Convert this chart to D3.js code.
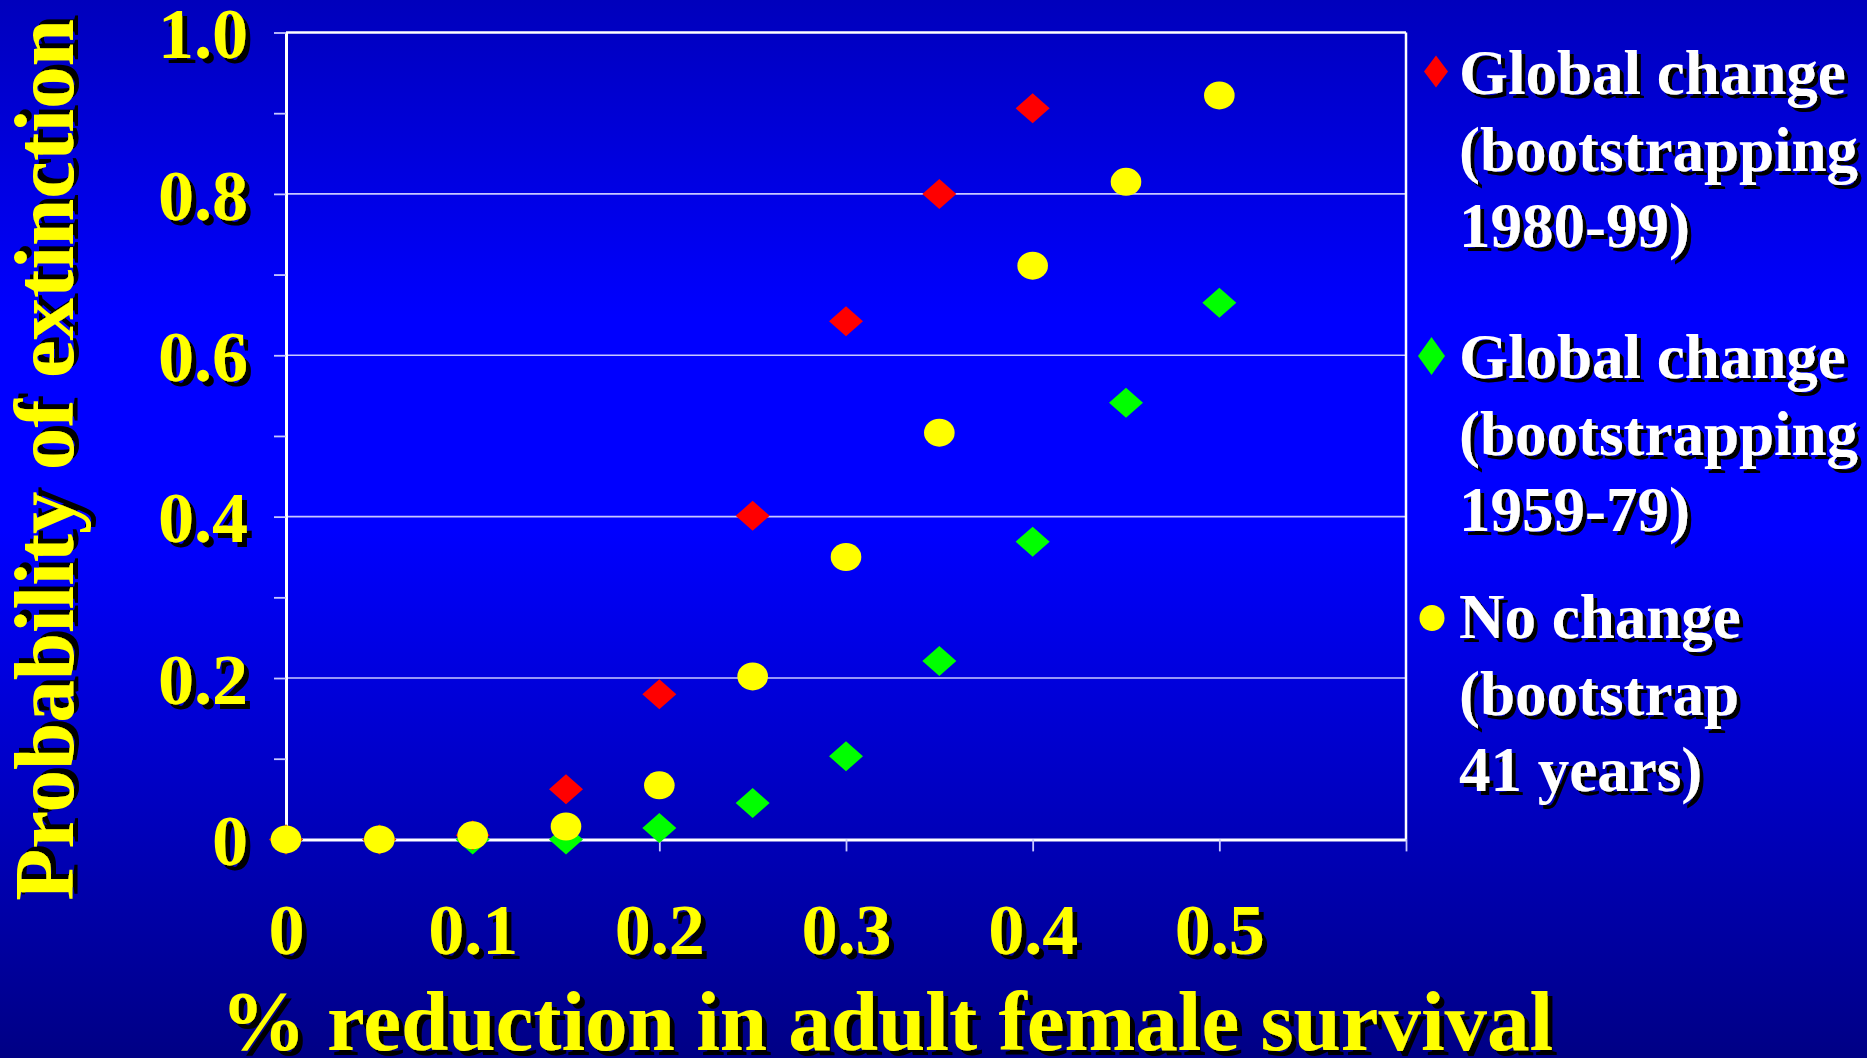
<!DOCTYPE html>
<html>
<head>
<meta charset="utf-8">
<script src="https://cdn.jsdelivr.net/npm/d3@7"></script>
<style>
  html, body { margin: 0; padding: 0; background: #0000cc; }
  svg { display: block; }
  text { font-family: "Liberation Serif", "Times New Roman", serif; font-weight: bold; }
</style>
</head>
<body>
<svg id="chart" width="1867" height="1058"></svg>
<script>
// ---- data ----
const xValues = [0, 0.05, 0.1, 0.15, 0.2, 0.25, 0.3, 0.35, 0.4, 0.45, 0.5];
const global8099 = [0, 0, 0.005, 0.062, 0.18, 0.401, 0.642, 0.80, 0.906, null, null];
const global5979 = [0, 0, 0, 0, 0.014, 0.045, 0.103, 0.221, 0.369, 0.541, 0.665];
const noChange = [0, 0, 0.005, 0.016, 0.067, 0.202, 0.35, 0.504, 0.711, 0.815, 0.922];
const seriesNames = ["Global change (bootstrapping 1980-99)", "Global change (bootstrapping 1959-79)", "No change (bootstrap 41 years)"];
const legendLines = [
  ["Global change", "(bootstrapping", "1980-99)"],
  ["Global change", "(bootstrapping", "1959-79)"],
  ["No change", "(bootstrap", "41 years)"]
];
const xTickValues = [0, 0.1, 0.2, 0.3, 0.4, 0.5, 0.6];
const xTickLabels = ["0", "0.1", "0.2", "0.3", "0.4", "0.5", ""];
const yTickValues = [0, 0.1, 0.2, 0.3, 0.4, 0.5, 0.6, 0.7, 0.8, 0.9, 1.0];
const yTickLabels = ["0", "", "0.2", "", "0.4", "", "0.6", "", "0.8", "", "1.0"];
const gridValues = [0.2, 0.4, 0.6, 0.8];
const xTitle = "% reduction in adult female survival";
const yTitle = "Probability of extinction";

// ---- setup ----
const svg = d3.select("#chart");
const W = 1867, H = 1058;
const defs = svg.append("defs");
const grad = defs.append("linearGradient").attr("id", "bg").attr("x1", 0).attr("y1", 0).attr("x2", 0).attr("y2", 1);
[[0, "#0000bc"], [0.3, "#0000ff"], [0.5, "#0000ff"], [1, "#000085"]].forEach(([o, c]) =>
  grad.append("stop").attr("offset", o).attr("stop-color", c));
const sh = defs.append("filter").attr("id", "shadow").attr("x", "-10%").attr("y", "-10%").attr("width", "120%").attr("height", "130%");
sh.append("feDropShadow").attr("dx", 5).attr("dy", 5).attr("stdDeviation", 0).attr("flood-color", "#000").attr("flood-opacity", 1);
const shs = defs.append("filter").attr("id", "shadowS").attr("x", "-10%").attr("y", "-10%").attr("width", "120%").attr("height", "130%");
shs.append("feDropShadow").attr("dx", 4).attr("dy", 4).attr("stdDeviation", 0).attr("flood-color", "#000").attr("flood-opacity", 1);

svg.append("rect").attr("width", W).attr("height", H).attr("fill", "url(#bg)");

const x = d3.scaleLinear().domain([0, 0.6]).range([286, 1406]);
const y = d3.scaleLinear().domain([0, 1]).range([839.4, 32.5]);

// gridlines
svg.append("g").selectAll("line").data(gridValues).join("line")
  .attr("x1", x(0)).attr("x2", x(0.6))
  .attr("y1", d => y(d)).attr("y2", d => y(d))
  .attr("stroke", "#c8c8ff").attr("stroke-width", 1.6);

// top & right border
svg.append("line").attr("x1", x(0)).attr("x2", x(0.6)).attr("y1", y(1)).attr("y2", y(1))
  .attr("stroke", "#fff").attr("stroke-width", 2.5);
svg.append("line").attr("x1", x(0.6)).attr("x2", x(0.6)).attr("y1", y(1)).attr("y2", y(0))
  .attr("stroke", "#fff").attr("stroke-width", 2.5);

// y axis
const yAxis = svg.append("g").attr("transform", `translate(${x(0)},0)`)
  .call(d3.axisLeft(y).tickValues(yTickValues).tickSize(12).tickSizeOuter(0).tickPadding(26)
    .tickFormat((d, i) => yTickLabels[i]));
yAxis.select(".domain").attr("stroke", "#fff").attr("stroke-width", 3);
yAxis.selectAll(".tick line").attr("stroke", "#c8c8ff").attr("stroke-width", 1.8);
yAxis.selectAll(".tick text").attr("fill", "#ffff00").attr("font-size", 72)
  .attr("dy", "0.35em").attr("filter", "url(#shadow)")
  .style("font-family", "'Liberation Serif', 'Times New Roman', serif").style("font-weight", "bold");

// x axis
const xAxis = svg.append("g").attr("transform", `translate(0,${y(0)})`)
  .call(d3.axisBottom(x).tickValues(xTickValues).tickSize(12).tickSizeOuter(0).tickPadding(51)
    .tickFormat((d, i) => xTickLabels[i]));
xAxis.select(".domain").attr("stroke", "#fff").attr("stroke-width", 3);
xAxis.selectAll(".tick line").attr("stroke", "#c8c8ff").attr("stroke-width", 1.8);
xAxis.selectAll(".tick text").attr("fill", "#ffff00").attr("font-size", 72)
  .attr("dy", "0.71em").attr("filter", "url(#shadow)")
  .style("font-family", "'Liberation Serif', 'Times New Roman', serif").style("font-weight", "bold");

// titles
svg.append("text").attr("x", 887).attr("y", 1050).attr("text-anchor", "middle")
  .attr("fill", "#ffff00").attr("font-size", 85).attr("filter", "url(#shadow)").text(xTitle);
svg.append("text").attr("transform", "translate(73,460) rotate(-90)").attr("text-anchor", "middle")
  .attr("fill", "#ffff00").attr("font-size", 85).attr("filter", "url(#shadow)").text(yTitle);

// markers
const diamond = (hw, hh) => `M0,${-hh}L${hw},0L0,${hh}L${-hw},0Z`;
const pts = (vals) => xValues.map((xv, i) => ({ x: xv, y: vals[i] })).filter(d => d.y !== null);

svg.append("g").selectAll("path").data(pts(global5979)).join("path")
  .attr("d", diamond(17, 15)).attr("fill", "#00ff00")
  .attr("transform", d => `translate(${x(d.x)},${y(d.y)})`);
svg.append("g").selectAll("path").data(pts(global8099)).join("path")
  .attr("d", diamond(17, 15)).attr("fill", "#ff0000")
  .attr("transform", d => `translate(${x(d.x)},${y(d.y)})`);
svg.append("g").selectAll("ellipse").data(pts(noChange)).join("ellipse")
  .attr("cx", d => x(d.x)).attr("cy", d => y(d.y)).attr("rx", 15.3).attr("ry", 14)
  .attr("fill", "#ffff00");

// legend
const legendBase = [94, 378, 638];
const lineGap = 76.5;
const lg = svg.append("g");
lg.append("path").attr("d", diamond(12, 16)).attr("fill", "#ff0000").attr("transform", "translate(1436,71.5)");
lg.append("path").attr("d", diamond(13.5, 19)).attr("fill", "#00ff00").attr("transform", "translate(1431.5,356)");
lg.append("ellipse").attr("cx", 1432).attr("cy", 618).attr("rx", 12.5).attr("ry", 13).attr("fill", "#ffff00");
legendLines.forEach((lines, k) => {
  const t = lg.append("text").attr("fill", "#ffffff").attr("font-size", 63).attr("filter", "url(#shadowS)")
    .attr("x", 1459).attr("y", legendBase[k]);
  lines.forEach((ln, j) => {
    t.append("tspan").attr("x", 1459).attr("y", legendBase[k] + j * lineGap).text(ln);
  });
});
</script>
</body>
</html>
